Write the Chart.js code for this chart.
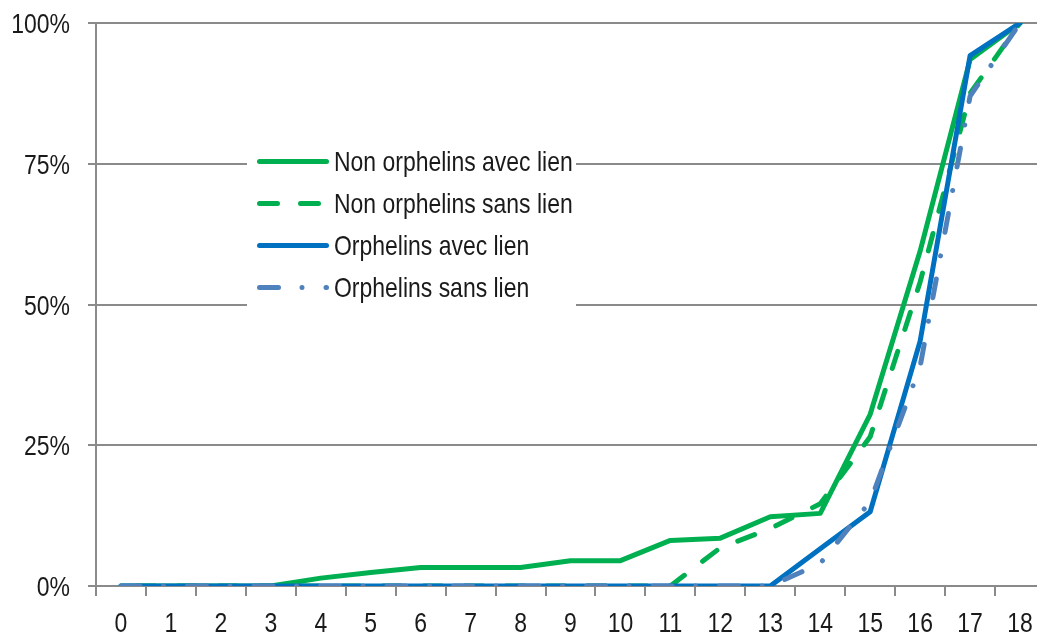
<!DOCTYPE html>
<html>
<head>
<meta charset="utf-8">
<script src="https://cdn.jsdelivr.net/npm/chart.js@4"></script>
<style>
  html, body { margin: 0; padding: 0; background: #fff; overflow: hidden; }
  #wrap { width: 1037px; height: 634px; overflow: hidden; }
</style>
</head>
<body>
<div id="wrap"><canvas id="cumulChart" width="1050" height="634"></canvas></div>
<script>
// ages (x axis)
const ages = ["0", "1", "2", "3", "4", "5", "6", "7", "8", "9", "10", "11", "12", "13", "14", "15", "16", "17", "18"];
// cumulative share, in %
const nonOrphAvec = [0, 0, 0, 0, 1.4, 2.4, 3.3, 3.3, 3.3, 4.5, 4.5, 8.1, 8.5, 12.3, 12.9, 30.5, 59.5, 93.5, 100];
const nonOrphSans = [0, 0, 0, 0, 0, 0, 0, 0, 0, 0, 0, 0, 6.8, 10.2, 14.6, 26.5, 54, 87.5, 100];
const orphAvec = [0, 0, 0, 0, 0, 0, 0, 0, 0, 0, 0, 0, 0, 0, 6.6, 13.2, 43.5, 94.2, 100];
const orphSans = [0, 0, 0, 0, 0, 0, 0, 0, 0, 0, 0, 0, 0, 0, 4, 15, 39, 87, 100];
const yTicks = [0, 25, 50, 75, 100];

// no Arial Narrow here: Liberation Sans squeezed to 82% looks the same
const FONT = '"Liberation Sans", Arial, sans-serif';
const NARROW = 0.82;
const GRID = "#8a8a8a";
const INK = "#1a1a1a";

function narrowText(c, txt, x, y, align) {
  c.save();
  c.scale(NARROW, 1);
  c.textAlign = align;
  c.fillText(txt, x / NARROW, y);
  c.restore();
}

// tick labels, placed with the chart's own scales
const narrowTicks = {
  id: "narrowTicks",
  afterDraw(chart) {
    const c = chart.ctx;
    const xs = chart.scales.x, ys = chart.scales.y;
    c.save();
    c.font = "28px " + FONT;
    c.fillStyle = INK;
    c.textBaseline = "alphabetic";
    ages.forEach((a, i) => narrowText(c, a, xs.getPixelForTick(i), 632, "center"));
    yTicks.forEach(v => narrowText(c, v + "%", 70, ys.getPixelForValue(v) + 10, "right"));
    c.restore();
  },
};

// legend drawn inside the plot, on a white box
const boxLegend = {
  id: "boxLegend",
  afterDraw(chart) {
    const c = chart.ctx;
    c.save();
    c.fillStyle = "#fff";
    c.fillRect(247, 138, 329, 172);
    c.font = "28px " + FONT;
    c.textBaseline = "alphabetic";
    chart.data.datasets.forEach((ds, i) => {
      const y = 161.5 + i * 42;
      c.beginPath();
      c.strokeStyle = ds.borderColor;
      c.lineWidth = ds.borderWidth;
      c.lineCap = "round";
      c.setLineDash(ds.borderDash || []);
      c.moveTo(259.5, y);
      c.lineTo(326.5, y);
      c.stroke();
      c.setLineDash([]);
      c.fillStyle = INK;
      narrowText(c, ds.label, 334, y + 9.5, "left");
    });
    c.restore();
  },
};

const ctx = document.getElementById("cumulChart");
new Chart(ctx, {
  type: "line",
  data: {
    labels: ages,
    datasets: [
      {
        label: "Non orphelins avec lien",
        data: nonOrphAvec,
        borderColor: "#00B050",
        borderWidth: 5,
        order: 4,
      },
      {
        label: "Non orphelins sans lien",
        data: nonOrphSans,
        borderColor: "#00B050",
        borderWidth: 5,
        borderDash: [18, 23],
        borderDashOffset: 25,
        order: 3,
      },
      {
        label: "Orphelins avec lien",
        data: orphAvec,
        borderColor: "#0070C0",
        borderWidth: 5,
        order: 2,
      },
      {
        label: "Orphelins sans lien",
        data: orphSans,
        borderColor: "#4F81BD",
        borderWidth: 5,
        borderDash: [19, 23.5, 0.01, 24],
        order: 1,
      },
    ],
  },
  options: {
    responsive: false,
    animation: false,
    layout: { padding: { top: 23, right: 5, left: 0, bottom: 0 } },
    elements: {
      point: { radius: 0 },
      line: { tension: 0, borderCapStyle: "round", borderJoinStyle: "round", fill: false },
    },
    plugins: {
      legend: { display: false },
      tooltip: { enabled: false },
    },
    scales: {
      x: {
        offset: true,
        grid: { offset: true, drawOnChartArea: false, color: GRID, lineWidth: 2, tickLength: 10 },
        border: { color: GRID, width: 2 },
        ticks: { display: false, autoSkip: false },
        afterFit(scale) { scale.height = 48; },
      },
      y: {
        min: 0,
        max: 100,
        afterBuildTicks(scale) { scale.ticks = yTicks.map(v => ({ value: v })); },
        grid: { color: GRID, lineWidth: 2, tickLength: 8 },
        border: { color: GRID, width: 2 },
        ticks: { display: false },
        afterFit(scale) { scale.width = 96; },
      },
    },
  },
  plugins: [boxLegend, narrowTicks],
});
</script>
</body>
</html>
